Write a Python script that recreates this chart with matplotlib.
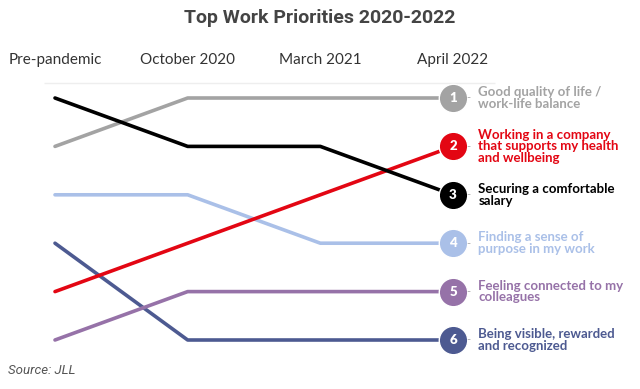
import matplotlib.pyplot as plt

periods = ["Pre-pandemic", "October 2020", "March 2021", "April 2022"]
labels = [
    "Good quality of life /\nwork-life balance",
    "Working in a company\nthat supports my health\nand wellbeing",
    "Securing a comfortable\nsalary",
    "Finding a sense of\npurpose in my work",
    "Feeling connected to my\ncolleagues",
    "Being visible, rewarded\nand recognized",
]
ranks = [
    [2, 1, 1, 1],
    [5, 4, 3, 2],
    [1, 2, 2, 3],
    [3, 3, 4, 4],
    [6, 5, 5, 5],
    [4, 6, 6, 6],
]
colors = ["#a3a3a3", "#e30613", "#000000", "#aac0e8", "#9672a8", "#4d5a91"]
draw_order = [0, 3, 5, 4, 1, 2]

W, H = 640, 389
fig = plt.figure(figsize=(W / 100, H / 100), dpi=100)
# axes span from first to last column, rank 1 to rank 6
ax = fig.add_axes([55 / W, (H - 340) / H, (453 - 55) / W, (340 - 98) / H])
ax.set_xlim(0, 3)
ax.set_ylim(6, 1)
ax.axis("off")

x = range(len(periods))
for i in draw_order:
    ax.plot(x, ranks[i], color=colors[i], lw=2.6, solid_capstyle="round",
            clip_on=False, zorder=2)
    last = ranks[i][-1]
    ax.plot(x[-1], last, "o", ms=20.5, color=colors[i], mec="white", mew=1,
            clip_on=False, zorder=3)
    ax.text(x[-1], last, str(last), color="white", fontsize=9.5, fontweight="heavy",
            ha="center", va="center", family="Lato", zorder=4)
    ax.text(x[-1] + 0.115, last, "-", color="#aaaaaa", fontsize=8,
            ha="center", va="center", family="Lato")
    ax.text(x[-1] + 0.19, last, labels[i], color=colors[i], fontsize=9.5,
            fontweight="bold", ha="left", va="center", family="Lato",
            linespacing=0.95)

for j, p in enumerate(periods):
    ax.text(j, 0.22, p, ha="center", va="center", fontsize=11,
            color="#333333", family="Lato")

ax.hlines(0.69, -0.083, 3.32, color="#eeeeee", lw=1, clip_on=False)

fig.text(0.5, 1 - 18 / H, "Top Work Priorities 2020-2022", ha="center",
         va="center", fontsize=14, fontweight="bold", color="#444444",
         family="Roboto")
fig.text(8 / W, 1 - 371 / H, "Source: JLL", ha="left", va="center",
         fontsize=9.5, style="italic", color="#555555", family="Roboto")

fig.savefig("out.png", dpi=100)
